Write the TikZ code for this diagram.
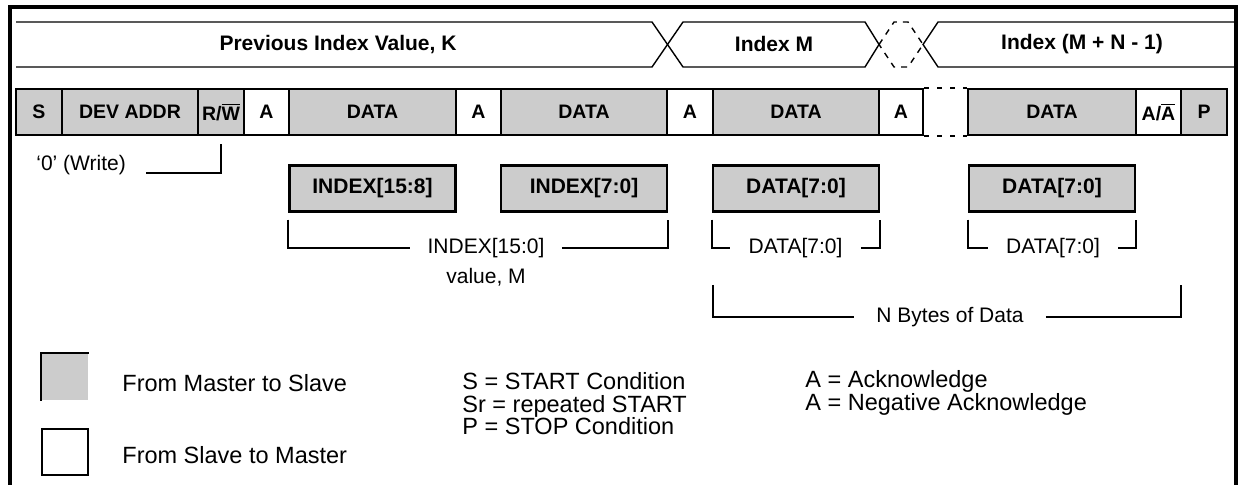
\documentclass[tikz,border=0pt]{standalone}
\usepackage{fontspec}
\setmainfont{Liberation Sans}
\usetikzlibrary{positioning}
\definecolor{fgry}{RGB}{204,204,204}
\tikzstyle{packet}=[
    x=0.5pt, y=-0.5pt,
    frame/.style={black, line width=1.6pt},
    bus/.style={black, line width=0.7pt},
    bus label/.style={font={\fontsize{10.5}{12}\selectfont\bfseries}},
    field/.style={draw=black, line width=1.1pt, inner sep=0pt, minimum height=23pt,
        font={\fontsize{9.75}{12}\selectfont\bfseries}},
    byte box/.style={field, fill=fgry, minimum width=83pt, font={\fontsize{10.5}{12}\selectfont\bfseries}},
    gap line/.style={black, line width=1.1pt, dash pattern=on 2.5pt off 4pt},
    bracket/.style={black, line width=1pt},
    bracket label/.style={font={\fontsize{10.5}{12}\selectfont}, inner xsep=9pt, inner ysep=0pt},
    key box/.style={line width=1pt, minimum size=23pt, inner sep=0pt},
    key label/.style={font={\fontsize{11.75}{11.25}\selectfont}, anchor=west, align=left, inner sep=0pt},
]

\begin{document}
\begin{tikzpicture}[packet]
    \useasboundingbox (0,0) rectangle (1240,485);

    % outer frame
    \draw[frame] (10,490) -- (10,7) -- (1236,7) -- (1236,490);

    % index bus
    \draw[bus] (16,22) -- (652,22) -- (683,67) -- (865,67) -- (879,44.5);
    \draw[bus] (16,67) -- (652,67) -- (683,22) -- (865,22) -- (879,44.5);
    \draw[bus, dashed] (879,44.5) -- (894,22) -- (908,22) -- (923,44.5) -- (908,67) -- (894,67) -- cycle;
    \draw[bus] (1236,22) -- (938,22) -- (923,44.5) -- (938,67) -- (1236,67);
    \node[bus label] (prev) at (338,44.5) {Previous Index Value, K};
    \node[bus label] (idxm) at (774,44.5) {Index M};
    \node[bus label] (idxn) at (1082,44.5) {Index (M + N - 1)};

    % packet fields
    \foreach \n/\l/\r/\c/\t in {
        s/16/62/fgry/S, dev/62/198/fgry/DEV ADDR, rw/198/244/fgry/{R/$\overline{\mbox{W}}$},
        a1/244/289/white/A, d1/289/456/fgry/DATA, a2/456/501/white/A, d2/501/667/fgry/DATA,
        a3/667/713/white/A, d3/713/879/fgry/DATA, a4/879/923/white/A, d4/968/1136/fgry/DATA,
        a5/1136/1181/white/{A/$\overline{\mbox{A}}$}, p/1181/1227/fgry/P}
    {
        \node[field, fill=\c, minimum width={(\r-\l)*0.5pt}] (\n) at ({(\l+\r)/2},112) {\t};
    }
    \draw[gap line] (a4.north east) -- (d4.north west);
    \draw[gap line] (a4.south east) -- (d4.south west);

    % byte boxes
    \coordinate (subrow) at (0,188.5);
    \foreach \n/\f/\t in {ixh/d1/{INDEX[15:8]}, ixl/d2/{INDEX[7:0]}, dt1/d3/{DATA[7:0]}, dt2/d4/{DATA[7:0]}}
    {
        \node[byte box] (\n) at (\f |- subrow) {\t};
    }

    % brackets
    \node[bracket label, anchor=west, inner xsep=0pt] (wr) at (36,165) {‘0’ (Write)};
    \draw[bracket] ([xshift=10pt,yshift=-4pt]wr.east) -| ([yshift=-4pt]rw.south);

    \node[bracket label, inner xsep=8.5pt] (ixv) at (486,248) {INDEX[15:0]};
    \node[bracket label] (valm) at (486,277) {value, M};
    \draw[bracket] ([yshift=-3.5pt]ixh.south west) |- (ixv.west);
    \draw[bracket] (ixv.east) -| ([yshift=-3.5pt]ixl.south east);

    \node[bracket label] (dtv1) at (795.5,248) {DATA[7:0]};
    \draw[bracket] ([yshift=-3.5pt]dt1.south west) |- (dtv1.west);
    \draw[bracket] (dtv1.east) -| ([yshift=-3.5pt]dt1.south east);

    \node[bracket label] (dtv2) at (1053,248) {DATA[7:0]};
    \draw[bracket] ([yshift=-3.5pt]dt2.south west) |- (dtv2.west);
    \draw[bracket] (dtv2.east) -| ([yshift=-3.5pt]dt2.south east);

    \node[bracket label, inner xsep=11pt] (nby) at (950,317) {N Bytes of Data};
    \coordinate (nbl) at (713,285);
    \coordinate (nbr) at (1181,285);
    \draw[bracket] (nbl) |- (nby.west);
    \draw[bracket] (nby.east) -| (nbr);

    % key
    \node[key box, fill=fgry] (ms) at (65,377) {};
    \draw[bracket] (ms.south west) |- (ms.north east);
    \node[key box, draw] (sm) at (65,452) {};
    \node[key label] (mslab) at (122,383) {From Master to Slave};
    \node[key label] (smlab) at (122,455) {From Slave to Master};
    \node[key label] (sdef) at (462,404) {S = START Condition\\Sr = repeated START\\P = STOP Condition};
    \node[key label] (adef) at (805,393) {A = Acknowledge\\A = Negative Acknowledge};
\end{tikzpicture}
\end{document}
